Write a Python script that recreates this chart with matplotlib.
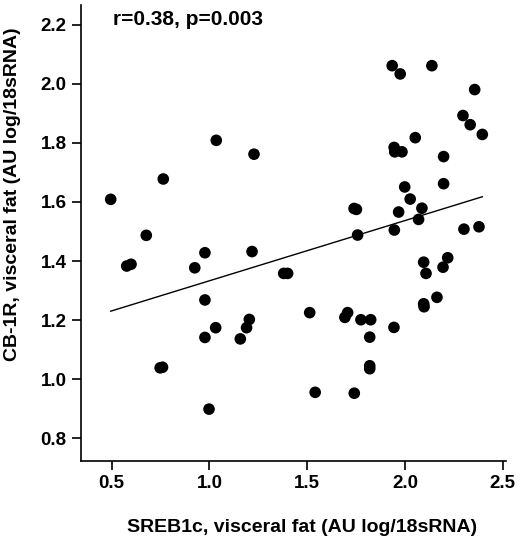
import numpy as np
import matplotlib.pyplot as plt

plt.rcParams['font.family'] = ['Liberation Sans', 'DejaVu Sans']
plt.rcParams['font.weight'] = 'bold'

# SREB1c (x) vs CB-1R (y), visceral fat
sreb1c = [0.495, 0.764, 1.035, 1.228, 0.677, 0.577, 0.599, 0.925, 0.977, 1.218,
          0.977, 1.032, 0.977, 1.158, 1.190, 1.204, 1.380, 1.400, 1.513, 1.541,
          0.748, 0.760, 0.998,
          1.935, 1.976, 2.138, 2.357, 2.297, 2.334, 2.396, 2.053, 1.945, 1.948,
          1.985, 2.198, 2.198, 1.999, 2.027, 1.740, 1.752, 1.968, 2.087, 2.070,
          1.758, 1.946, 2.302, 2.379, 2.096, 2.108, 2.219, 2.195, 2.164, 2.096,
          2.098, 1.707, 1.693, 1.775, 1.825, 1.944, 1.820, 1.820, 1.820, 1.741]
cb1r = [1.609, 1.678, 1.809, 1.762, 1.487, 1.383, 1.389, 1.377, 1.428, 1.432,
        1.268, 1.174, 1.141, 1.136, 1.174, 1.202, 1.358, 1.358, 1.225, 0.955,
        1.038, 1.040, 0.898,
        2.062, 2.034, 2.062, 1.981, 1.893, 1.862, 1.829, 1.818, 1.785, 1.770,
        1.770, 1.754, 1.662, 1.651, 1.610, 1.578, 1.575, 1.566, 1.579, 1.541,
        1.488, 1.505, 1.508, 1.516, 1.396, 1.358, 1.411, 1.379, 1.277, 1.255,
        1.245, 1.225, 1.209, 1.201, 1.201, 1.175, 1.142, 1.045, 1.035, 0.952]

# regression line as drawn in the figure
fit_intercept = 1.129
fit_slope = 0.204

x_ticks = [0.5, 1.0, 1.5, 2.0, 2.5]
y_ticks = [0.8, 1.0, 1.2, 1.4, 1.6, 1.8, 2.0, 2.2]
stat_text = "r=0.38, p=0.003"

fig = plt.figure(figsize=(5.2, 5.44), dpi=100)
ax = fig.add_axes([0.155, 0.153, 0.818, 0.838])

x = np.array(sreb1c)
y = np.array(cb1r)
ax.scatter(x, y, s=70, color='black', edgecolors='none', zorder=3)

xl = np.array([x.min(), x.max()])
ax.plot(xl, fit_intercept + fit_slope * xl, color='black', lw=1.0)

ax.set_xlim(0.341, 2.517)
ax.set_ylim(0.723, 2.268)
ax.set_xticks(x_ticks)
ax.set_xticklabels([f"{v:.1f}" for v in x_ticks])
ax.set_yticks(y_ticks)
ax.set_yticklabels([f"{v:.1f}" for v in y_ticks])

for side in ['top', 'right']:
    ax.spines[side].set_visible(False)
for side in ['left', 'bottom']:
    ax.spines[side].set_linewidth(1.2)
ax.tick_params(direction='out', length=6.5, width=1.2, labelsize=13.5)
ax.tick_params(axis='y', pad=3.5)
ax.tick_params(axis='x', pad=4)

ax.set_xlabel("SREB1c, visceral fat (AU log/18sRNA)", fontsize=14, fontweight='bold')
ax.set_ylabel("CB-1R, visceral fat (AU log/18sRNA)", fontsize=14, fontweight='bold')
ax.xaxis.set_label_coords(0.521, -0.1455)
ax.yaxis.set_label_coords(-0.159, 0.585)
ax.xaxis.label.set_va('center')
ax.yaxis.label.set_va('center')

ax.text(0.077, 0.968, stat_text, transform=ax.transAxes, fontsize=15,
        fontweight='bold', ha='left', va='center')

fig.savefig("out.png", dpi=100)
